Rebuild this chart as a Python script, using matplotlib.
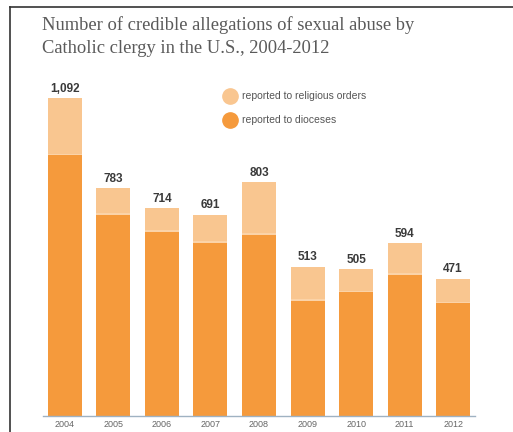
import matplotlib
matplotlib.use("Agg")
import matplotlib.pyplot as plt
from matplotlib.lines import Line2D

# Data
years = ["2004", "2005", "2006", "2007", "2008", "2009", "2010", "2011", "2012"]
totals = [1092, 783, 714, 691, 803, 513, 505, 594, 471]
dioceses = [898, 695, 635, 599, 625, 398, 428, 489, 390]
religious = [t - d for t, d in zip(totals, dioceses)]

dark = "#f59a3c"
light = "#f9c690"

fig = plt.figure(figsize=(5.13, 4.32), dpi=100)
ax = fig.add_axes([43 / 513, 1 - 416 / 432, (475 - 43) / 513, (416 - 60) / 432])

x = range(len(years))
ax.bar(x, dioceses, width=0.7, color=dark, linewidth=0)
ax.bar(x, religious, width=0.7, bottom=dioceses, color=light, linewidth=0)
# thin pale line between the two parts
ax.bar(x, 6, width=0.7, bottom=[d - 3 for d in dioceses], color="#fbd3a8", linewidth=0)

for i, t in enumerate(totals):
    ax.text(i, t + 12, f"{t:,}", ha="center", va="bottom", fontsize=8.5,
            fontweight="bold", color="#3a3a3a", family="Liberation Sans")

ax.set_xlim(-0.45, 8.45)
ax.set_ylim(0, 1223)
ax.set_yticks([])
ax.set_xticks(list(x))
ax.set_xticklabels(years, fontsize=6.5, color="#666666", family="Liberation Sans")
ax.tick_params(axis="x", length=0, pad=3)
for s in ["top", "right", "left"]:
    ax.spines[s].set_visible(False)
ax.spines["bottom"].set_color("#9fb2c2")
ax.spines["bottom"].set_linewidth(1)

handles = [
    Line2D([], [], marker="o", linestyle="none", markersize=11, color=light),
    Line2D([], [], marker="o", linestyle="none", markersize=11, color=dark),
]
leg = fig.legend(handles, ["reported to religious orders", "reported to dioceses"],
                 loc="upper left", bbox_to_anchor=(210 / 513, 1 - 82 / 432),
                 frameon=False, handletextpad=0.2, labelspacing=1.35,
                 prop={"family": "Liberation Sans", "size": 7.5})
for t in leg.get_texts():
    t.set_color("#555555")

title_lines = ["Number of credible allegations of sexual abuse by",
               "Catholic clergy in the U.S., 2004-2012"]
for k, line in enumerate(title_lines):
    fig.text(42 / 513, 1 - (30 + 23 * k) / 432, line,
             fontsize=13.3, family="Liberation Serif", color="#5a5a5a",
             va="baseline")

# frame lines at the top and left
fig.add_artist(Line2D([10 / 513, 1], [1 - 7 / 432, 1 - 7 / 432], color="#333333", linewidth=1.2))
fig.add_artist(Line2D([10 / 513, 10 / 513], [0, 1 - 7 / 432], color="#333333", linewidth=1.2))

fig.savefig("out.png", dpi=100)
